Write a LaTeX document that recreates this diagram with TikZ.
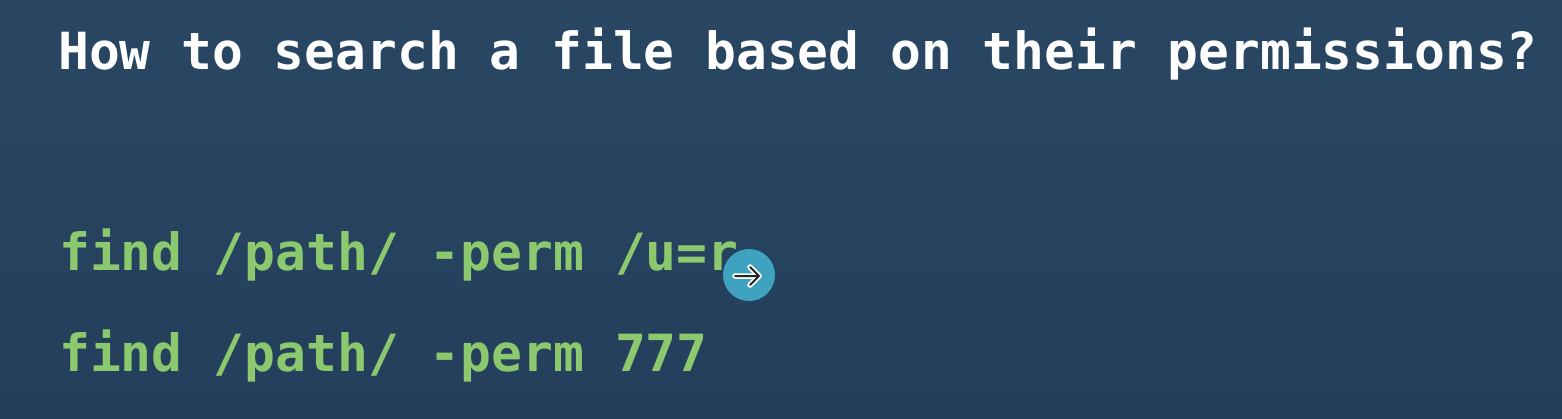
\documentclass[tikz,border=0pt]{standalone}
\usepackage{fontspec}
\setmonofont{DejaVu Sans Mono}
\definecolor{bgtop}{HTML}{294663}
\definecolor{bgbot}{HTML}{233F5C}
\definecolor{codegreen}{HTML}{8CC96E}
\definecolor{cursorblue}{HTML}{3FA3BF}
\tikzset{x=1pt,y=-1pt,
 titletext/.style={anchor=base west,inner sep=0pt,text=white,font=\ttfamily\bfseries\fontsize{51.2}{51.2}\selectfont},
 codetext/.style={anchor=base west,inner sep=0pt,text=codegreen,font=\ttfamily\bfseries\fontsize{51.3}{51.3}\selectfont},
 arrowglyph/.pic={\draw[pic actions,line cap=round,line join=round] (-12,0) -- (12,0) (3,-9) -- (12,0) -- (3,9);}}
\begin{document}
\begin{tikzpicture}
\useasboundingbox (0,0) rectangle (1562,418);
\shade[top color=bgtop,bottom color=bgbot] (0,0) rectangle (1562,418);
\node[titletext] (title) at (58,69) {How to search a file based on their permissions?};
\node[codetext] (cmda) at (59,270) {find /path/ -perm /u=r};
\node[codetext] (cmdb) at (59,371) {find /path/ -perm 777};
\fill[cursorblue] (749,275) circle (26);
\pic[draw=white,line width=5.5pt] at (747,276) {arrowglyph};
\pic[draw=black!85,line width=2pt] at (747,276) {arrowglyph};
\end{tikzpicture}
\end{document}
